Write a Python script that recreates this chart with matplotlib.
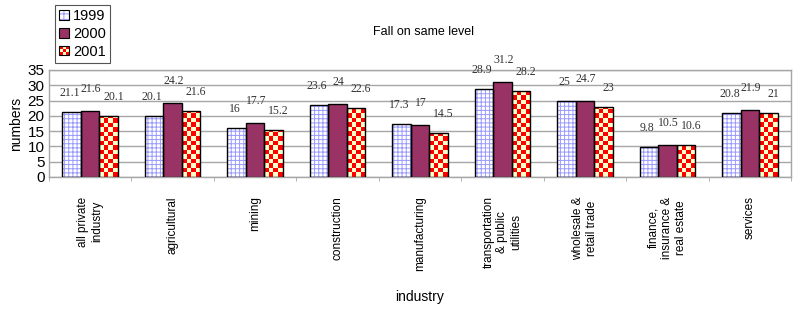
import numpy as np
import matplotlib
matplotlib.use('Agg')
import matplotlib.pyplot as plt
from matplotlib.patches import Patch, Rectangle
from matplotlib.colors import ListedColormap
from matplotlib.legend_handler import HandlerBase, HandlerTuple

categories = ['all private\nindustry', 'agricultural', 'mining', 'construction',
              'manufacturing', 'transportation\n& public\nutilities',
              'wholesale &\nretail trade', 'finance,\ninsurance &\nreal estate',
              'services']
years = ['1999', '2000', '2001']
v1999 = [21.1, 20.1, 16, 23.6, 17.3, 28.9, 25, 9.8, 20.8]
v2000 = [21.6, 24.2, 17.7, 24, 17, 31.2, 24.7, 10.5, 21.9]
v2001 = [20.1, 21.6, 15.2, 22.6, 14.5, 28.2, 23, 10.6, 21]
yticks = [0, 5, 10, 15, 20, 25, 30, 35]

BLUE = '#9999FF'
PURPLE = '#993366'
RED = '#FF0000'
CREAM = '#FFFFCC'
GRID = '#A6A6A6'

plt.rcParams['font.family'] = 'Liberation Sans'
plt.rcParams['hatch.linewidth'] = 0.7


class CheckerHandler(HandlerBase):
    # draws a small red / cream checkerboard in the legend
    def create_artists(self, legend, orig_handle, xdescent, ydescent,
                       width, height, fontsize, trans):
        x0, y0 = -xdescent, -ydescent
        arts = [Rectangle((x0, y0), width, height, facecolor=CREAM,
                          edgecolor='none', transform=trans)]
        n = 3
        for i in range(n):
            for j in range(n):
                if (i + j) % 2 == 0:
                    arts.append(Rectangle((x0 + i * width / n, y0 + j * height / n),
                                          width / n, height / n, facecolor=RED,
                                          edgecolor='none', transform=trans))
        arts.append(Rectangle((x0, y0), width, height, fill=False,
                              edgecolor='black', linewidth=0.8, transform=trans))
        return arts


def main():
    fig = plt.figure(figsize=(8, 3.11), dpi=100)
    ax = fig.add_axes([0.061, 0.431, 0.928, 0.344])

    x = np.arange(len(categories))
    w = 0.225

    # 1999: white with light blue grid
    ax.bar(x - w, v1999, w, color='white', hatch='++++', edgecolor=BLUE,
           linewidth=0, zorder=2)
    # 2000: solid purple
    ax.bar(x, v2000, w, color=PURPLE, linewidth=0, zorder=2)
    # 2001: red / cream checkerboard
    bars01 = ax.bar(x + w, v2001, w, color=CREAM, linewidth=0, zorder=2)
    cmap = ListedColormap([CREAM, RED])
    sq = 1.47
    for b in bars01:
        bx, bw, bh = b.get_x(), b.get_width(), b.get_height()
        nrows = int(np.ceil(bh / sq))
        board = np.indices((nrows, 4)).sum(axis=0) % 2
        im = ax.imshow(board, cmap=cmap, extent=(bx, bx + bw, 0, nrows * sq),
                       origin='lower', aspect='auto', interpolation='nearest',
                       zorder=2.5)
        im.set_clip_path(b)

    # black outlines on top
    for off, vals in zip([-w, 0, w], [v1999, v2000, v2001]):
        ax.bar(x + off, vals, w, fill=False, edgecolor='black', linewidth=1.0,
               zorder=3)

    # value labels
    for off, vals, dx, dy in zip([-w, 0, w], [v1999, v2000, v2001],
                                 [-2, 1, 5], [13, 16, 13]):
        for xi, v in zip(x, vals):
            ax.annotate('{:g}'.format(v), (xi + off, v), xytext=(dx, dy),
                        textcoords='offset pixels', ha='center', va='bottom',
                        fontsize=8.5, family='Liberation Serif', color='#333333')

    ax.set_xlim(-0.5, len(categories) - 0.5)
    ax.set_ylim(0, 35)
    ax.set_yticks(yticks)
    ax.tick_params(axis='y', length=0, labelsize=11, pad=3)
    ax.set_xticks(x)
    ax.set_xticklabels(categories, rotation=90, fontsize=8.5, va='top',
                       ha='center')
    ax.tick_params(axis='x', which='major', length=0, pad=14)
    ax.set_xticks(np.arange(len(categories) + 1) - 0.5, minor=True)
    ax.tick_params(axis='x', which='minor', length=3, color=GRID,
                   direction='out')
    ax.yaxis.grid(True, color=GRID, linewidth=1.0)
    ax.set_axisbelow(True)
    for s in ax.spines.values():
        s.set_color(GRID)
        s.set_linewidth(1.0)

    ax.set_ylabel('numbers', fontsize=10, labelpad=3)
    fig.text(0.525, 1 - 297 / 311, 'industry', ha='center', va='center',
             fontsize=10)
    fig.text(0.529, 1 - 32 / 311, 'Fall on same level', ha='center',
             va='center', fontsize=9)

    # legend
    checker = Patch()
    handles = [(Patch(facecolor='white', hatch='+++', edgecolor=BLUE, linewidth=0),
                Patch(fill=False, edgecolor='black', linewidth=0.8)),
               Patch(facecolor=PURPLE, edgecolor='black', linewidth=0.8),
               checker]
    leg = fig.legend(handles, years, loc='upper left',
                     bbox_to_anchor=(55 / 800, 1 - 5 / 311),
                     handler_map={tuple: HandlerTuple(ndivide=1),
                                  checker: CheckerHandler()},
                     fontsize=10.5, frameon=True, fancybox=False,
                     framealpha=1, edgecolor='#555555', borderpad=0.3,
                     labelspacing=0.25, handlelength=0.65, handleheight=0.65,
                     handletextpad=0.3, borderaxespad=0)
    leg.get_frame().set_linewidth(0.8)

    fig.savefig('out.png', dpi=100)


if __name__ == '__main__':
    main()
